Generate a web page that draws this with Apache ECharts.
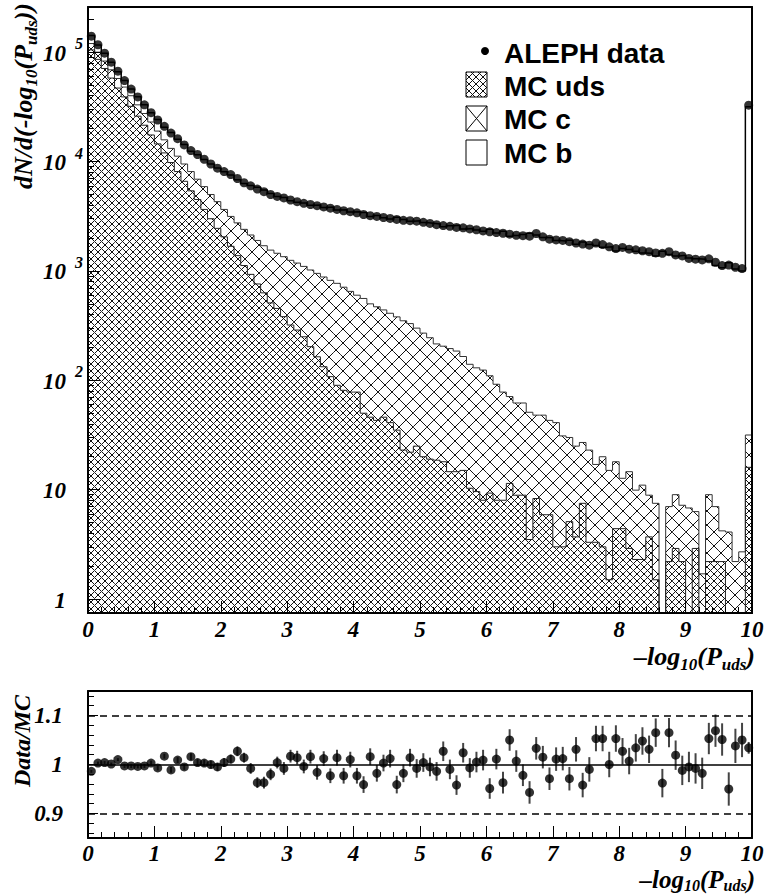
<!DOCTYPE html>
<html><head><meta charset="utf-8">
<script src="https://cdn.jsdelivr.net/npm/echarts@6/dist/echarts.min.js"></script>
<style>html,body{margin:0;padding:0;background:#fff}#c{width:766px;height:896px}</style>
</head><body><div id="c"></div>
<script>
// ---------- data ----------
const binEdges = [0,0.1,0.2,0.3,0.4,0.5,0.6,0.7,0.8,0.9,1,1.1,1.2,1.3,1.4,1.5,1.6,1.7,1.8,1.9,2,2.1,2.2,2.3,2.4,2.5,2.6,2.7,2.8,2.9,3,3.1,3.2,3.3,3.4,3.5,3.6,3.7,3.8,3.9,4,4.1,4.2,4.3,4.4,4.5,4.6,4.7,4.8,4.9,5,5.1,5.2,5.3,5.4,5.5,5.6,5.7,5.8,5.9,6,6.1,6.2,6.3,6.4,6.5,6.6,6.7,6.8,6.9,7,7.1,7.2,7.3,7.4,7.5,7.6,7.7,7.8,7.9,8,8.1,8.2,8.3,8.4,8.5,8.6,8.7,8.8,8.9,9,9.1,9.2,9.3,9.4,9.5,9.6,9.7,9.8,9.9,10];

const dataCounts = [140000,117000,98000,81000,67000,55000,46000,39000,33000,28000,
24000,21000,18200,16200,14200,12600,11600,10500,9500,8700,
8100,7600,7000,6400,6000,5600,5300,5000,4800,4650,
4450,4300,4150,4050,3950,3850,3750,3650,3550,3480,
3400,3280,3200,3150,3080,3020,2960,2900,2880,2850,
2780,2720,2650,2600,2560,2500,2480,2420,2380,2320,
2280,2240,2210,2170,2120,2100,2080,2200,2050,1950,
1920,1900,1850,1800,1760,1720,1800,1740,1660,1600,
1640,1580,1560,1530,1500,1460,1450,1500,1400,1370,
1300,1280,1260,1290,1200,1120,1130,1080,1050,32800];

const mcTotal = [142000,116500,97600,80900,66300,55200,46100,39100,33100,27900,
24200,20600,18400,16000,14300,12400,11550,10450,9500,8750,
8070,7520,6820,6310,6050,5810,5500,5100,4780,4690,
4380,4240,4170,3990,4010,3800,3840,3600,3630,3450,
3480,3420,3150,3210,3070,2980,3090,2950,2840,2870,
2770,2730,2690,2530,2590,2610,2420,2440,2370,2300,
2400,2220,2300,2070,2110,2150,2210,2130,2020,2010,
1900,1880,1910,1750,1840,1740,1710,1650,1660,1520,
1600,1570,1510,1460,1450,1370,1510,1410,1370,1390,
1310,1290,1280,1230,1120,1070,1190,1040,1000,31700];

const mcUdsPlusC = [120000,100000,83000,69000,57500,48000,40000,33000,27500,23000,
19000,15800,13200,11200,9500,8100,6900,5900,5000,4300,
3650,3150,2750,2400,2130,1900,1700,1550,1450,1350,
1250,1180,1100,1020,950,880,820,770,710,650,
600,560,500,470,440,410,380,350,330,300,
270,245,215,205,195,185,165,140,130,124,
110,92,78,71,62,62,51,48,48,43,
41,31,30,25,27,23,17,20,15,18,
12.7,14.6,9.9,11,8.9,7.5,0,7,9,7.2,
6.8,6.3,1.7,9,7,4.2,4.1,2.2,2.7,31.6];

const mcUds = [105000,86000,71000,58000,47000,39000,32000,26000,21500,17500,
14500,12000,9800,8100,6600,5400,4500,3650,3000,2450,
2050,1680,1380,1120,930,760,630,510,454,382,
320,288,250,203,164,133,108,90,81,78,
78,50,46,43,46,41,35,23,22,25,
20,19,18.6,18,14.6,14.6,15,10.3,9.6,8.0,
9.3,8.0,8.0,11.4,8.9,8.9,3.5,8.3,5.9,5.9,
3.0,3.0,5.1,3.7,7.5,3.3,3.3,3.0,1.5,4.4,
4.4,2.9,2.3,2.3,3.7,1.5,0,2.2,2.9,2.2,
0,2.9,0,2.2,2.2,2.2,0,0,0,16];

const ratioVals = [0.986,1.003,1.004,1.001,1.010,0.997,0.997,0.996,0.997,1.003,
0.993,1.017,0.989,1.009,0.995,1.016,1.004,1.003,1.000,0.995,
1.004,1.011,1.027,1.014,0.992,0.963,0.963,0.980,1.004,0.992,
1.017,1.014,0.996,1.016,0.984,1.012,0.977,1.014,0.977,1.010,
0.977,0.959,1.016,0.982,1.003,1.012,0.959,0.982,1.014,0.992,
1.004,0.995,0.986,1.027,0.990,0.958,1.024,0.993,1.005,1.009,
0.951,1.011,0.963,1.050,1.007,0.978,0.943,1.033,1.015,0.971,
1.011,1.012,0.971,1.031,0.958,0.990,1.053,1.053,1.000,1.053,
1.027,1.007,1.034,1.048,1.031,1.065,0.962,1.065,1.019,0.988,
0.995,0.992,0.982,1.053,1.069,1.051,0.950,1.038,1.050,1.034];

const ratioErr = [0.003,0.003,0.003,0.003,0.003,0.004,0.004,0.004,0.004,0.005,
0.005,0.005,0.006,0.006,0.006,0.007,0.007,0.007,0.008,0.008,
0.009,0.009,0.010,0.010,0.011,0.011,0.012,0.012,0.012,0.013,
0.013,0.014,0.014,0.014,0.015,0.015,0.015,0.016,0.016,0.016,
0.016,0.017,0.017,0.017,0.017,0.018,0.018,0.018,0.018,0.019,
0.019,0.019,0.019,0.020,0.020,0.020,0.020,0.020,0.021,0.021,
0.021,0.021,0.022,0.022,0.022,0.022,0.023,0.023,0.023,0.023,
0.024,0.024,0.024,0.025,0.025,0.025,0.026,0.026,0.026,0.027,
0.027,0.027,0.028,0.028,0.028,0.029,0.029,0.030,0.030,0.030,
0.031,0.031,0.032,0.032,0.033,0.033,0.034,0.035,0.035,0.012];

const xTickLabels = [0,1,2,3,4,5,6,7,8,9,10];
const yMainLabels = [1,10,100,1000,10000,100000];
const yMainMinor = [2,3,4,5,6,7,8,9,20,30,40,50,60,70,80,90,200,300,400,500,600,700,800,900,
  2000,3000,4000,5000,6000,7000,8000,9000,20000,30000,40000,50000,60000,70000,80000,90000,200000];
const yRatioLabels = [0.9,1,1.1];
const yRatioMinor = [0.86,0.88,0.92,0.94,0.96,0.98,1.02,1.04,1.06,1.08,1.12,1.14];
const legendNames = ['ALEPH data','MC uds','MC c','MC b'];

// ---------- helpers ----------
const Y_MIN = 0.745, Y_MAX = 259000, FLOOR = 0.01;
const serif = '"Liberation Serif","DejaVu Serif",serif';
const sans = '"Liberation Sans",Arial,sans-serif';
const SBI = {fontFamily: serif, fontWeight: 'bold', fontStyle: 'italic', color: '#000'};

function hatchTile(p, lw, color) {
  const cv = document.createElement('canvas'); cv.width = p; cv.height = p;
  const g = cv.getContext('2d'); g.strokeStyle = color; g.lineWidth = lw;
  g.beginPath();
  for (let k = -1; k <= 1; k++) {
    g.moveTo(k * p, 0); g.lineTo(k * p + p, p);
    g.moveTo(k * p + p, 0); g.lineTo(k * p, p);
  }
  g.stroke();
  return cv;
}
const densePat = {image: hatchTile(7, 1, '#111'), repeat: 'repeat'};
const sparsePat = {image: hatchTile(14, 1, '#111'), repeat: 'repeat'};

const binCenters = ratioVals.map((_, i) => (binEdges[i] + binEdges[i + 1]) / 2);

function binRender(pattern) {
  return function (params, api) {
    const x0 = api.value(0), x1 = api.value(1), lo = api.value(2), hi = api.value(3);
    if (!(hi > lo)) return null;
    const cs = params.coordSys;
    const a = api.coord([x0, hi]), b = api.coord([x1, lo]);
    const top = Math.max(a[1], cs.y), bot = Math.min(b[1], cs.y + cs.height);
    if (bot <= top) return null;
    return {type: 'rect', shape: {x: a[0], y: top, width: b[0] - a[0], height: bot - top},
      style: {fill: pattern, stroke: null}};
  };
}
function stepData(vals) {
  const d = [[binEdges[0], FLOOR]];
  vals.forEach((v, i) => d.push([binEdges[i], v > 0 ? v : FLOOR]));
  d.push([binEdges[100], vals[99] > 0 ? vals[99] : FLOOR]);
  d.push([binEdges[100], FLOOR]);
  return d;
}

const udsItems = mcUds.map((v, i) => [binEdges[i], binEdges[i + 1], FLOOR, v]);
const cItems = mcUdsPlusC.map((v, i) => [binEdges[i], binEdges[i + 1], mcUds[i] > 0 ? mcUds[i] : FLOOR, v]);

const nameRich = {
  a: Object.assign({}, SBI, {fontSize: 26, verticalAlign: 'top', lineHeight: 28}),
  s: Object.assign({}, SBI, {fontSize: 17, verticalAlign: 'top', lineHeight: 17, padding: [13, 0, 0, 0]})
};
const nameRichSmall = {
  a: Object.assign({}, SBI, {fontSize: 25, verticalAlign: 'top', lineHeight: 25}),
  s: Object.assign({}, SBI, {fontSize: 16, verticalAlign: 'top', lineHeight: 16, padding: [10, 0, 0, 0]})
};

const chart = echarts.init(document.getElementById('c'), null, {renderer: 'svg', width: 766, height: 896});

const frameLine = {show: true, lineStyle: {color: '#000', width: 2}};
const tickFont = {fontSize: 23, fontFamily: serif, fontWeight: 'bold', fontStyle: 'italic', color: '#000'};
const option = {
  animation: false,
  backgroundColor: '#fff',
  grid: [
    {left: 88, top: 7, width: 664, height: 606, containLabel: false, outerBoundsMode: 'none'},
    {left: 88, top: 691, width: 664, height: 147, containLabel: false, outerBoundsMode: 'none'}
  ],
  xAxis: [
    {type: 'value', gridIndex: 0, min: 0, max: 10, interval: 1, z: 5,
      axisLine: frameLine,
      axisTick: {show: true, inside: true, length: 12, lineStyle: {color: '#000', width: 1}},
      minorTick: {show: true, splitNumber: 5, length: 6, lineStyle: {color: '#000', width: 1}},
      axisLabel: Object.assign({margin: 5, customValues: xTickLabels}, tickFont),
      splitLine: {show: false},
      name: '{a|–log}{s|10}{a|(P}{s|uds}{a|)}', nameLocation: 'end', nameGap: 3, nameMoveOverlap: false,
      nameTextStyle: {align: 'right', verticalAlign: 'top', padding: [30, 0, 0, 0], rich: nameRich}
    },
    {type: 'value', gridIndex: 0, min: 0, max: 10, position: 'top', z: 5,
      axisLine: frameLine, axisTick: {show: false}, axisLabel: {show: false}, splitLine: {show: false}},
    {type: 'value', gridIndex: 1, min: 0, max: 10, interval: 1, z: 5,
      axisLine: frameLine,
      axisTick: {show: true, inside: true, length: 12, lineStyle: {color: '#000', width: 1}},
      minorTick: {show: true, splitNumber: 5, length: 6, lineStyle: {color: '#000', width: 1}},
      axisLabel: Object.assign({margin: 4, customValues: xTickLabels}, tickFont),
      splitLine: {show: false},
      name: '{a|–log}{s|10}{a|(P}{s|uds}{a|)}', nameLocation: 'end', nameGap: 3, nameMoveOverlap: false,
      nameTextStyle: {align: 'right', verticalAlign: 'top', padding: [29, 0, 0, 0], rich: nameRichSmall}
    },
    {type: 'value', gridIndex: 1, min: 0, max: 10, position: 'top', z: 5,
      axisLine: frameLine, axisTick: {show: false}, axisLabel: {show: false}, splitLine: {show: false}}
  ],
  yAxis: [
    {type: 'log', gridIndex: 0, min: Y_MIN, max: Y_MAX, logBase: 10, position: 'left', z: 5,
      axisLine: frameLine,
      axisTick: {show: true, inside: true, length: 12, lineStyle: {color: '#000', width: 1}, customValues: yMainLabels},
      axisLabel: {margin: 5, customValues: yMainLabels,
        formatter: v => {
          const e = Math.round(Math.log10(v));
          return e === 0 ? '{b|1}{s| }' : e === 1 ? '{b|10}{s| }' : '{b|10}{s|' + e + '}';
        },
        rich: {
          b: Object.assign({}, SBI, {fontSize: 23, verticalAlign: 'bottom', lineHeight: 25}),
          s: Object.assign({}, SBI, {fontSize: 16, verticalAlign: 'bottom', lineHeight: 16, width: 11, padding: [0, 0, 13, 6]})
        }},
      splitLine: {show: false},
      name: '{a|dN/d(-log}{s|10}{a|(P}{s|uds}{a|))}', nameLocation: 'end', nameRotate: 90, nameGap: 4,
      nameMoveOverlap: false,
      nameTextStyle: {align: 'right', verticalAlign: 'bottom', padding: [0, 0, 50, 0], rich: nameRich}
    },
    {type: 'log', gridIndex: 0, min: Y_MIN, max: Y_MAX, logBase: 10, position: 'left', z: 5,
      axisLine: {show: false},
      axisTick: {show: true, inside: true, length: 6, lineStyle: {color: '#000', width: 1}, customValues: yMainMinor},
      axisLabel: {show: false}, splitLine: {show: false}},
    {type: 'log', gridIndex: 0, min: Y_MIN, max: Y_MAX, logBase: 10, position: 'right', z: 5,
      axisLine: frameLine, axisTick: {show: false}, axisLabel: {show: false}, splitLine: {show: false}},
    {type: 'value', gridIndex: 1, min: 0.85, max: 1.15, position: 'left', z: 5,
      axisLine: frameLine,
      axisTick: {show: true, inside: true, length: 10, lineStyle: {color: '#000', width: 1}, customValues: yRatioLabels},
      axisLabel: Object.assign({margin: 25, customValues: yRatioLabels,
        formatter: v => String(Math.round(v * 10) / 10)}, tickFont),
      splitLine: {show: false},
      name: 'Data/MC', nameLocation: 'end', nameRotate: 90, nameGap: -4, nameMoveOverlap: false,
      nameTextStyle: Object.assign({}, SBI, {fontSize: 24, align: 'right', verticalAlign: 'bottom', padding: [0, 0, 54, 0]})
    },
    {type: 'value', gridIndex: 1, min: 0.85, max: 1.15, position: 'left', z: 5,
      axisLine: {show: false},
      axisTick: {show: true, inside: true, length: 6, lineStyle: {color: '#000', width: 1}, customValues: yRatioMinor},
      axisLabel: {show: false}, splitLine: {show: false}},
    {type: 'value', gridIndex: 1, min: 0.85, max: 1.15, position: 'right', z: 5,
      axisLine: frameLine, axisTick: {show: false}, axisLabel: {show: false}, splitLine: {show: false}}
  ],
  series: [
    {name: 'MC uds', type: 'custom', xAxisIndex: 0, yAxisIndex: 0, data: udsItems, clip: true,
      encode: {x: [0, 1], y: [2, 3]}, renderItem: binRender(densePat), z: 2, silent: true},
    {name: 'MC c', type: 'custom', xAxisIndex: 0, yAxisIndex: 0, data: cItems, clip: true,
      encode: {x: [0, 1], y: [2, 3]}, renderItem: binRender(sparsePat), z: 2, silent: true},
    {name: 'MC b outline', type: 'line', xAxisIndex: 0, yAxisIndex: 0, step: 'end', data: stepData(mcTotal),
      showSymbol: false, symbol: 'none', clip: true, lineStyle: {color: '#000', width: 1.5}, z: 3, silent: true},
    {name: 'MC c outline', type: 'line', xAxisIndex: 0, yAxisIndex: 0, step: 'end', data: stepData(mcUdsPlusC),
      showSymbol: false, symbol: 'none', clip: true, lineStyle: {color: '#333', width: 1}, z: 3, silent: true},
    {name: 'MC uds outline', type: 'line', xAxisIndex: 0, yAxisIndex: 0, step: 'end', data: stepData(mcUds),
      showSymbol: false, symbol: 'none', clip: true, lineStyle: {color: '#222', width: 1}, z: 3, silent: true},
    {name: 'ALEPH data', type: 'scatter', xAxisIndex: 0, yAxisIndex: 0,
      data: dataCounts.map((v, i) => [binCenters[i], v]), symbol: 'circle', symbolSize: 9,
      itemStyle: {color: '#000'}, z: 4, silent: true},
    {name: 'ratio err', type: 'custom', xAxisIndex: 2, yAxisIndex: 3,
      data: ratioVals.map((r, i) => [binCenters[i], r, ratioErr[i]]), encode: {x: 0, y: 1},
      renderItem: (params, api) => {
        const x = api.value(0), y = api.value(1), e = api.value(2);
        const a = api.coord([x, y - e]), b = api.coord([x, y + e]);
        return {type: 'line', shape: {x1: a[0], y1: a[1], x2: b[0], y2: b[1]}, style: {stroke: '#444', lineWidth: 2}};
      }, z: 3, silent: true},
    {name: 'Data/MC', type: 'scatter', xAxisIndex: 2, yAxisIndex: 3,
      data: ratioVals.map((r, i) => [binCenters[i], r]), symbol: 'circle', symbolSize: 9,
      itemStyle: {color: '#000'}, z: 4, silent: true,
      markLine: {silent: true, symbol: 'none', label: {show: false},
        data: [
          {yAxis: 1.1, lineStyle: {type: [7, 5], color: '#000', width: 1.5}},
          {yAxis: 1.0, lineStyle: {type: 'solid', color: '#000', width: 1.5}},
          {yAxis: 0.9, lineStyle: {type: [7, 5], color: '#000', width: 1.5}}
        ]}}
  ],
  graphic: [
    {type: 'circle', shape: {cx: 485, cy: 51, r: 4}, style: {fill: '#000'}, z: 10},
    {type: 'text', x: 504, y: 53, style: {text: legendNames[0], font: 'bold 28px ' + sans, fill: '#000', verticalAlign: 'middle'}, z: 10},
    {type: 'rect', shape: {x: 466, y: 72, width: 21, height: 25}, style: {fill: densePat, stroke: '#000', lineWidth: 1}, z: 10},
    {type: 'text', x: 504, y: 86, style: {text: legendNames[1], font: 'bold 28px ' + sans, fill: '#000', verticalAlign: 'middle'}, z: 10},
    {type: 'rect', shape: {x: 466, y: 106, width: 21, height: 25}, style: {fill: '#fff', stroke: '#000', lineWidth: 1}, z: 10},
    {type: 'line', shape: {x1: 466, y1: 106, x2: 487, y2: 131}, style: {stroke: '#000', lineWidth: 1}, z: 11},
    {type: 'line', shape: {x1: 487, y1: 106, x2: 466, y2: 131}, style: {stroke: '#000', lineWidth: 1}, z: 11},
    {type: 'text', x: 504, y: 119, style: {text: legendNames[2], font: 'bold 28px ' + sans, fill: '#000', verticalAlign: 'middle'}, z: 10},
    {type: 'rect', shape: {x: 466, y: 140, width: 21, height: 25}, style: {fill: '#fff', stroke: '#000', lineWidth: 1}, z: 10},
    {type: 'text', x: 504, y: 153, style: {text: legendNames[3], font: 'bold 28px ' + sans, fill: '#000', verticalAlign: 'middle'}, z: 10}
  ]
};
chart.setOption(option);
</script>
</body></html>
